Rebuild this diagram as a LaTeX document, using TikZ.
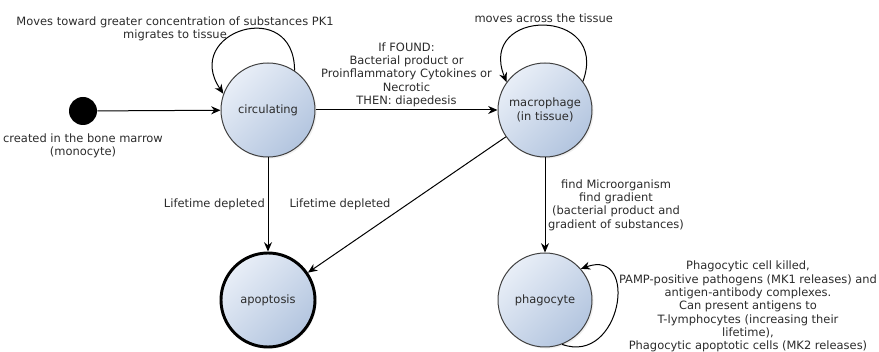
\documentclass[tikz,border=0pt]{standalone}
\usepackage{fontspec}
\setmainfont{DejaVu Sans}
\usetikzlibrary{arrows.meta,positioning,shadows}
\definecolor{stateTop}{HTML}{E8EEF7}
\definecolor{stateBot}{HTML}{B3C5DF}
\definecolor{txt}{HTML}{2B2B2B}
\tikzset{every node/.style={font=\fontsize{8.6}{10}\selectfont, text=txt},
  state/.style={circle, draw=black!75, line width=0.75pt, minimum size=70.5pt, inner sep=0pt, align=center,
    top color=stateTop, bottom color=stateBot, shading angle=45,
    drop shadow={opacity=0.12, shadow xshift=1.2pt, shadow yshift=-1.2pt}},
  final/.style={state, draw=black, line width=2.2pt},
  initial/.style={circle, fill=black, minimum size=21pt, inner sep=0pt},
  trans/.style={draw=black, line width=0.75pt, -{Stealth[length=7pt,width=6pt]}},
  note/.style={align=center, inner sep=2pt}}

\begin{document}
\begin{tikzpicture}[x=0.75pt,y=0.75pt]
  \useasboundingbox (0,0) rectangle (879,-352);
  \node[initial] (start) at ( 83,-111) {};
  \node[state]   (circ)  at (268,-110) {circulating};
  \node[state]   (macro) at (545,-110) {macrophage\\(in tissue)};
  \node[final]   (apop)  at (268,-300) {apoptosis};
  \node[state]   (phag)  at (545,-300) {phagocyte};

  \node[note, below=4pt of start] (startnote) {created in the bone marrow\\(monocyte)};
  \node[note] (circnote) at (175,-29) {Moves toward greater concentration of substances PK1\\migrates to tissue};

  \draw[trans] (start) -- (circ);
  \draw[trans] (circ.56) .. controls +(90:75) and +(124:75) .. (circ.160);
  \draw[trans] (circ) -- node[note, above] {If FOUND:\\Bacterial product or\\Proinflammatory Cytokines or\\Necrotic\\THEN: diapedesis} (macro);
  \draw[trans] (macro.37) .. controls +(70:80) and +(112:80) .. node[note, above] {moves across the tissue} (macro.144);
  \draw[trans] (circ) -- node[note, left] {Lifetime depleted} (apop);
  \draw[trans] (macro) -- node[note, left=10pt] {Lifetime depleted} (apop);
  \draw[trans] (macro) -- node[note, right] {find Microorganism\\find gradient\\(bacterial product and\\gradient of substances)} (phag);
  \draw[trans] (phag.-69) .. controls +(-20:63) and +(20:63) .. node[note, right] {Phagocytic cell killed,\\PAMP-positive pathogens (MK1 releases) and\\antigen-antibody complexes.\\Can present antigens to\\T-lymphocytes (increasing their\\lifetime),\\Phagocytic apoptotic cells (MK2 releases)} (phag.41);
\end{tikzpicture}
\end{document}
